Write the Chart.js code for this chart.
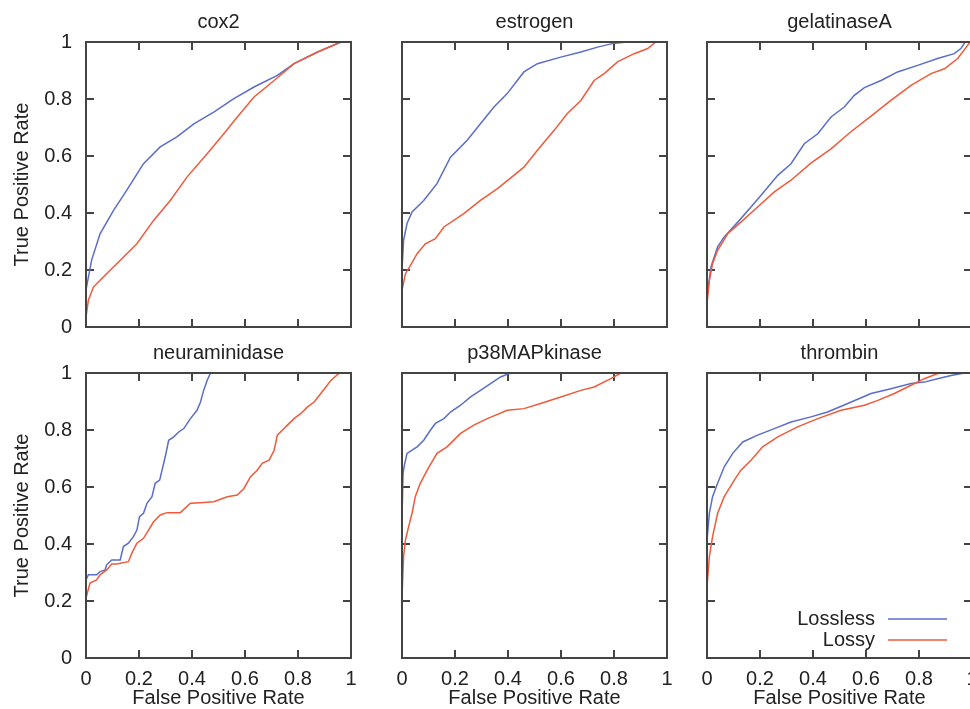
<!DOCTYPE html>
<html>
<head>
<meta charset="utf-8">
<title>ROC curves</title>
<script src="https://cdn.jsdelivr.net/npm/chart.js@4.4.1/dist/chart.umd.min.js"></script>
<style>
  html, body { margin: 0; padding: 0; background: #fff; overflow: hidden; }
  body { position: relative; width: 970px; height: 709px; }
  canvas { position: absolute; }
</style>
</head>
<body>
<canvas id="cox2"></canvas>
<canvas id="estrogen"></canvas>
<canvas id="gelatinaseA"></canvas>
<canvas id="neuraminidase"></canvas>
<canvas id="p38MAPkinase"></canvas>
<canvas id="thrombin"></canvas>
<script>
var panelNames = ["cox2", "estrogen", "gelatinaseA", "neuraminidase", "p38MAPkinase", "thrombin"];
var seriesNames = ["Lossless", "Lossy"];
var rateTicks = [0, 0.2, 0.4, 0.6, 0.8, 1];
var rateTickLabels = ["0", "0.2", "0.4", "0.6", "0.8", "1"];

// [false positive rate, true positive rate]
var cox2Lossless = [[0,0.13],[0.021,0.234],[0.053,0.327],[0.104,0.409],[0.154,0.48],[0.217,0.573],[0.28,0.632],[0.343,0.667],[0.407,0.713],[0.482,0.754],[0.558,0.801],[0.634,0.842],[0.722,0.883],[0.785,0.924],[0.874,0.965],[0.962,1],[1,1]];
var cox2Lossy = [[0,0.035],[0.009,0.094],[0.028,0.14],[0.053,0.164],[0.116,0.222],[0.192,0.292],[0.255,0.374],[0.318,0.444],[0.381,0.526],[0.457,0.608],[0.52,0.678],[0.571,0.737],[0.634,0.807],[0.71,0.865],[0.785,0.924],[0.874,0.965],[0.962,1],[1,1]];

var estrogenLossless = [[0,0.199],[0.006,0.304],[0.019,0.363],[0.038,0.404],[0.082,0.444],[0.132,0.503],[0.183,0.596],[0.246,0.655],[0.296,0.713],[0.347,0.772],[0.397,0.819],[0.46,0.895],[0.511,0.924],[0.599,0.947],[0.675,0.965],[0.738,0.982],[0.801,0.996],[0.851,1],[1,1]];
var estrogenLossy = [[0,0.129],[0.013,0.187],[0.032,0.216],[0.057,0.257],[0.088,0.292],[0.126,0.31],[0.158,0.351],[0.233,0.398],[0.296,0.444],[0.359,0.485],[0.422,0.532],[0.46,0.561],[0.511,0.62],[0.574,0.69],[0.624,0.749],[0.675,0.795],[0.725,0.865],[0.763,0.889],[0.813,0.93],[0.876,0.959],[0.927,0.977],[0.958,1],[1,1]];

var gelatinaseALossless = [[0,0.105],[0.015,0.211],[0.04,0.281],[0.065,0.316],[0.116,0.368],[0.166,0.421],[0.204,0.462],[0.267,0.532],[0.317,0.573],[0.367,0.643],[0.418,0.678],[0.468,0.737],[0.518,0.772],[0.556,0.813],[0.594,0.84],[0.657,0.865],[0.719,0.895],[0.795,0.918],[0.87,0.942],[0.933,0.959],[0.958,0.977],[0.974,1],[1,1]];
var gelatinaseALossy = [[0,0.082],[0.009,0.164],[0.021,0.222],[0.04,0.269],[0.078,0.327],[0.128,0.368],[0.191,0.421],[0.254,0.474],[0.317,0.515],[0.392,0.575],[0.468,0.625],[0.543,0.685],[0.619,0.74],[0.694,0.795],[0.77,0.848],[0.845,0.889],[0.896,0.906],[0.946,0.942],[0.99,0.996],[1,1]];

var neuraminidaseLossless = [[0,0.274],[0.009,0.292],[0.04,0.292],[0.053,0.303],[0.072,0.309],[0.078,0.327],[0.097,0.344],[0.129,0.344],[0.141,0.391],[0.16,0.403],[0.179,0.426],[0.192,0.449],[0.202,0.496],[0.217,0.508],[0.23,0.543],[0.249,0.566],[0.261,0.613],[0.278,0.624],[0.287,0.659],[0.299,0.706],[0.312,0.764],[0.331,0.776],[0.35,0.793],[0.369,0.805],[0.394,0.84],[0.419,0.869],[0.432,0.898],[0.444,0.939],[0.457,0.974],[0.47,1],[1,1]];
var neuraminidaseLossy = [[0,0.21],[0.015,0.263],[0.04,0.274],[0.053,0.292],[0.078,0.309],[0.097,0.33],[0.116,0.33],[0.16,0.338],[0.173,0.368],[0.192,0.403],[0.217,0.42],[0.236,0.449],[0.255,0.478],[0.28,0.502],[0.306,0.51],[0.356,0.51],[0.394,0.543],[0.432,0.545],[0.482,0.548],[0.533,0.566],[0.571,0.572],[0.596,0.595],[0.621,0.636],[0.646,0.659],[0.665,0.683],[0.691,0.694],[0.71,0.729],[0.722,0.782],[0.747,0.805],[0.76,0.817],[0.785,0.84],[0.811,0.858],[0.836,0.881],[0.861,0.898],[0.886,0.928],[0.905,0.951],[0.924,0.974],[0.956,1],[1,1]];

var p38MAPkinaseLossless = [[0,0.49],[0.004,0.648],[0.009,0.677],[0.019,0.718],[0.038,0.729],[0.057,0.741],[0.082,0.764],[0.107,0.799],[0.126,0.823],[0.158,0.84],[0.183,0.863],[0.221,0.887],[0.259,0.916],[0.296,0.939],[0.334,0.963],[0.372,0.986],[0.404,0.998],[0.435,1],[1,1]];
var p38MAPkinaseLossy = [[0,0.216],[0.006,0.356],[0.013,0.414],[0.025,0.461],[0.038,0.508],[0.05,0.566],[0.069,0.613],[0.095,0.659],[0.132,0.718],[0.17,0.741],[0.221,0.788],[0.271,0.817],[0.322,0.84],[0.397,0.869],[0.46,0.875],[0.523,0.893],[0.599,0.916],[0.675,0.939],[0.725,0.951],[0.788,0.98],[0.826,1],[1,1]];

var thrombinLossless = [[0,0.414],[0.009,0.508],[0.021,0.566],[0.04,0.613],[0.065,0.671],[0.097,0.718],[0.135,0.758],[0.191,0.782],[0.254,0.805],[0.317,0.828],[0.392,0.846],[0.455,0.863],[0.531,0.893],[0.619,0.928],[0.694,0.945],[0.77,0.963],[0.82,0.968],[0.87,0.98],[0.921,0.991],[0.971,1],[1,1]];
var thrombinLossy = [[0,0.251],[0.009,0.356],[0.021,0.426],[0.04,0.508],[0.065,0.566],[0.103,0.624],[0.128,0.659],[0.166,0.694],[0.21,0.741],[0.267,0.776],[0.342,0.811],[0.418,0.84],[0.506,0.869],[0.594,0.887],[0.645,0.904],[0.707,0.928],[0.77,0.957],[0.82,0.98],[0.87,0.998],[0.896,1],[1,1]];

var panelData = [
    [cox2Lossless, cox2Lossy],
    [estrogenLossless, estrogenLossy],
    [gelatinaseALossless, gelatinaseALossy],
    [neuraminidaseLossless, neuraminidaseLossy],
    [p38MAPkinaseLossless, p38MAPkinaseLossy],
    [thrombinLossless, thrombinLossy]
];

var FONT = '"Liberation Sans", Arial, Helvetica, sans-serif';
var FONT_SIZE = 20;
var INK = '#222';
var FRAME = '#444';
var seriesColors = ['#5a6ec8', '#ef5a3a'];

// plot area geometry on the page
var AREA_W = 265, AREA_H = 285, TITLE_H = 32;
var areaLeft = [86, 402, 707];
var areaTop = [42, 373];

Chart.defaults.font.family = FONT;
Chart.defaults.font.size = FONT_SIZE;
Chart.defaults.color = INK;

// key drawn inside the plot, text left of the sample line (like gnuplot)
var insideKey = {
    id: 'insideKey',
    afterDatasetsDraw: function (chart) {
        var a = chart.chartArea, ctx = chart.ctx;
        ctx.save();
        ctx.font = FONT_SIZE + 'px ' + FONT;
        ctx.textAlign = 'right';
        ctx.textBaseline = 'middle';
        chart.data.datasets.forEach(function (ds, k) {
            var y = a.bottom - 39 + k * 21;
            ctx.fillStyle = INK;
            ctx.fillText(ds.label, a.left + 168, y);
            ctx.strokeStyle = ds.borderColor;
            ctx.lineWidth = 1.5;
            ctx.beginPath();
            ctx.moveTo(a.left + 181, y);
            ctx.lineTo(a.left + 240, y);
            ctx.stroke();
        });
        ctx.restore();
    }
};

function rateAxis(position, size, labels, title, labelPad) {
    return {
        type: 'linear',
        position: position,
        min: 0,
        max: 1,
        afterBuildTicks: function (s) {
            s.ticks = rateTicks.map(function (v) { return {value: v}; });
        },
        afterFit: function (s) {
            // fixed box size, and no extra room asked for the end labels
            if (s.isHorizontal()) s.height = size; else s.width = size;
            s.paddingLeft = s.paddingRight = s.paddingTop = s.paddingBottom = 0;
        },
        grid: {drawOnChartArea: false, drawTicks: true, tickLength: -8, color: FRAME, lineWidth: 2},
        border: {display: true, color: FRAME, width: 2, z: 1},
        ticks: {
            display: labels, padding: labelPad, color: INK, font: {size: FONT_SIZE},
            maxRotation: 0, autoSkip: false,
            callback: function (v, idx) { return rateTickLabels[idx]; }
        },
        title: title ? {display: true, text: title, color: INK, font: {size: FONT_SIZE},
                        padding: position === 'left' ? {top: 10, bottom: 0} : {top: 0, bottom: 0}}
                     : {display: false}
    };
}

panelNames.forEach(function (name, i) {
    var row = Math.floor(i / 3), col = i % 3;
    var leftW = col === 0 ? 86 : 8;
    var rightW = 8;
    var bottomH = row === 1 ? 52 : 8;

    var canvas = document.getElementById(name);
    canvas.width = leftW + AREA_W + rightW;
    canvas.height = TITLE_H + AREA_H + bottomH;
    canvas.style.left = (areaLeft[col] - leftW) + 'px';
    canvas.style.top = (areaTop[row] - TITLE_H) + 'px';

    new Chart(canvas.getContext('2d'), {
        type: 'line',
        data: {
            datasets: seriesNames.map(function (s, k) {
                return {
                    label: s,
                    data: panelData[i][k],
                    borderColor: seriesColors[k],
                    backgroundColor: seriesColors[k],
                    borderWidth: 1.5,
                    pointRadius: 0,
                    tension: 0,
                    fill: false,
                    order: 1 - k
                };
            })
        },
        options: {
            responsive: false,
            animation: false,
            events: [],
            layout: {padding: 0},
            scales: {
                x: rateAxis('bottom', bottomH, row === 1, row === 1 ? 'False Positive Rate' : null, 17.5),
                x2: rateAxis('top', 0, false, null, 0),
                y: rateAxis('left', leftW, col === 0, col === 0 ? 'True Positive Rate' : null, 22),
                y2: rateAxis('right', rightW, false, null, 0)
            },
            plugins: {
                legend: {display: false},
                tooltip: {enabled: false},
                title: {display: true, text: name, fullSize: false, color: INK,
                        font: {size: FONT_SIZE, weight: 'normal'}, padding: {top: 0, bottom: 8}}
            }
        },
        plugins: name === 'thrombin' ? [insideKey] : []
    });
});
</script>
</body>
</html>
